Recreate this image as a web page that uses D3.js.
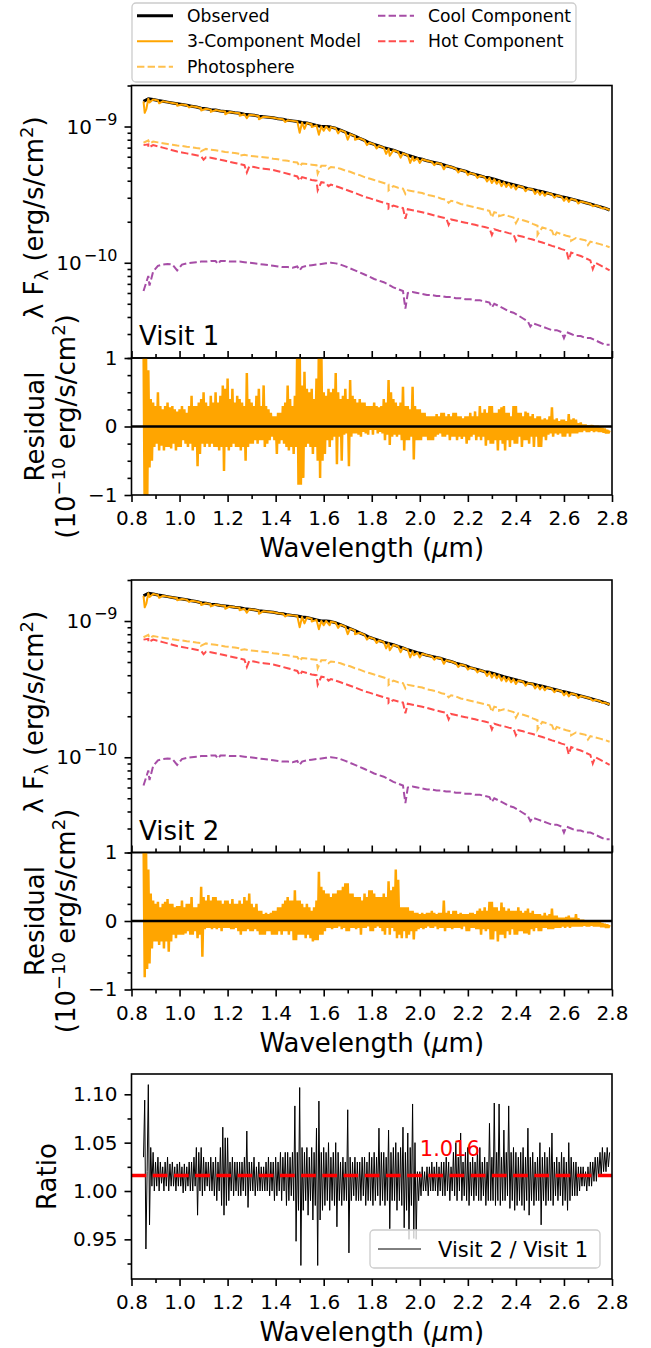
<!DOCTYPE html>
<html><head><meta charset="utf-8">
<script src="https://cdn.jsdelivr.net/npm/d3@7/dist/d3.min.js"></script>
<style>
body{margin:0;background:#fff}
svg{display:block}
text{font-family:"DejaVu Sans",sans-serif;fill:#000}
</style>
</head><body>
<svg id="chart" width="651" height="1348"></svg>
<script>
// ---------------- DATA ----------------
const fluxUnit = 1e-10;               // flux values below are in units of 1e-10 erg/s/cm^2
const specStart = 0.85, specStep = 0.02;   // wavelength grid (um) of the spectra
const observed = [15.3,16.0,15.8,15.5,15.3,15.1,14.9,14.7,
  14.5,14.3,14.1,13.9,13.6,13.5,13.3,13.2,13.0,12.9,12.8,12.6,12.5,12.3,12.2,12.1,11.9,11.8,11.7,11.6,
  11.4,11.3,11.1,11.0,10.9,10.7,10.6,10.4,10.2,10.0,10.0,9.9,9.7,9.4,9.1,8.8,8.5,8.2,7.9,7.6,
  7.4,7.2,7.0,6.85,6.7,6.5,6.35,6.15,6.0,5.85,
  5.75,5.6,5.5,5.4,5.3,5.15,5.05,4.9,4.8,4.7,4.55,4.45,4.35,4.25,4.2,4.1,4.0,3.9,3.82,3.74,
  3.66,3.58,3.5,3.45,3.38,3.32,3.25,3.18,3.12,3.05,3.0,2.94,2.88,2.82,2.76,2.7,2.64,2.58,2.52,2.44];
const modelDips = [[0.855,12.6],[0.862,13.5],[0.875,15.0],[0.915,14.8],[0.99,14.2],[1.04,13.8],[1.09,13.1],
  [1.13,12.8],[1.19,12.3],[1.25,12.0],[1.28,11.5],[1.33,11.3],[1.44,10.8],[1.50,9.0],[1.52,9.6],[1.55,9.9],
  [1.58,8.7],[1.60,9.3],[1.625,9.3],[1.66,8.9],[1.70,8.0],[1.73,8.0],[1.78,7.3],[1.82,6.9],[1.86,6.3],
  [1.875,6.1],[1.92,5.9],[1.96,5.4],[1.975,5.6],[2.0,5.4],[2.06,5.2],[2.1,4.85],[2.16,4.6],[2.2,4.4],
  [2.24,4.2],[2.28,3.95],[2.3,3.85],[2.32,3.8],[2.34,3.65],[2.36,3.6],[2.38,3.55],[2.4,3.45],[2.44,3.35],
  [2.48,3.2],[2.5,3.15],[2.52,3.1],[2.56,3.0],[2.6,2.85],[2.62,2.8],[2.66,2.72],[2.72,2.6],[2.76,2.5]];
const photosphere = [7.6,7.9,7.75,7.65,7.55,7.45,7.35,7.25,
  7.2,7.1,7.05,6.95,6.9,6.85,6.75,6.7,6.6,6.5,6.45,6.4,6.3,6.2,6.1,6.05,6.0,5.95,5.9,5.8,
  5.75,5.65,5.6,5.5,5.45,5.35,5.3,5.25,5.2,5.15,5.15,5.05,5.0,4.9,4.75,4.65,4.5,4.4,4.25,4.15,
  4.05,3.95,3.85,3.75,3.65,3.55,3.5,3.4,3.35,3.3,
  3.25,3.15,3.1,3.05,2.95,2.9,2.85,2.8,2.7,2.65,2.6,2.55,2.5,2.45,2.4,2.35,2.3,2.25,2.2,2.15,
  2.1,2.05,2.0,1.93,1.87,1.82,1.77,1.72,1.67,1.62,1.58,1.55,1.52,1.49,1.46,1.43,1.4,1.37,1.34,1.3];
const photoDips = [[0.875,7.5],[1.09,6.6],[1.25,6.1],[1.5,5.1],[1.575,4.5],[1.62,4.9],[1.87,3.4],[1.94,3.2],
  [2.12,2.75],[2.3,2.15],[2.33,2.2],[2.4,1.95],[2.49,1.6],[2.56,1.55],[2.63,1.45],[2.7,1.35]];
const coolComp = [0.62,0.80,0.86,0.95,0.97,0.98,0.97,0.88,
  0.97,0.99,1.0,1.01,1.02,1.02,1.03,1.03,1.03,1.03,1.02,1.02,1.02,1.01,1.0,0.99,0.98,0.97,0.96,0.95,
  0.94,0.93,0.93,0.92,0.94,0.93,0.95,0.96,0.97,0.98,0.99,1.0,0.99,0.97,0.94,0.91,0.88,0.85,0.82,0.79,
  0.76,0.74,0.72,0.69,0.66,0.64,0.62,0.60,0.61,0.60,
  0.59,0.58,0.58,0.57,0.57,0.56,0.56,0.55,0.55,0.54,0.54,0.53,0.53,0.52,0.51,0.50,0.48,0.46,0.44,0.43,
  0.41,0.39,0.37,0.36,0.35,0.34,0.33,0.32,0.32,0.31,0.31,0.30,0.29,0.29,0.28,0.28,0.27,0.26,0.25,0.25];
const coolDips = [[0.875,0.68],[1.16,0.98],[1.5,0.88],[1.94,0.46],[2.3,0.47],[2.46,0.34],[2.6,0.28]];
const hotComp = [7.3,7.4,7.3,7.15,7.0,6.85,6.7,6.55,
  6.45,6.35,6.25,6.15,6.05,5.95,5.9,5.8,5.7,5.6,5.5,5.4,5.3,5.2,5.1,5.05,4.95,4.9,4.85,4.8,
  4.7,4.6,4.5,4.4,4.3,4.25,4.15,4.05,4.0,3.9,3.85,3.75,3.65,3.55,3.45,3.35,3.25,3.15,3.05,2.98,
  2.9,2.83,2.76,2.7,2.63,2.57,2.52,2.47,2.43,2.39,
  2.35,2.3,2.25,2.2,2.16,2.12,2.08,2.04,2.0,1.97,1.93,1.9,1.86,1.83,1.79,1.76,1.72,1.69,1.65,1.62,
  1.58,1.55,1.51,1.48,1.44,1.41,1.37,1.33,1.3,1.26,1.23,1.19,1.15,1.12,1.08,1.04,1.0,0.96,0.92,0.88];
const hotDips = [[0.87,7.0],[1.1,5.7],[1.28,4.6],[1.5,4.0],[1.575,3.4],[1.62,3.65],[1.87,2.5],[1.94,2.1],
  [2.12,1.9],[2.3,1.6],[2.4,1.45],[2.62,1.05],[2.72,0.9]];

const residStart = 0.85, residStep = 0.005;  // residual grid (um), residuals in 1e-10 units
const residual1 = [
  1.3,-1.3,1.3,-1.3,0.82,-0.6,0.4,-0.5,0.35,-0.3,
  0.3,-0.25,0.5,-0.35,0.3,-0.28,0.25,-0.35,0.3,-0.3,
  0.35,-0.3,0.28,-0.32,0.3,-0.25,0.25,-0.35,0.22,-0.3,
  0.25,-0.3,0.3,-0.2,0.25,-0.25,0.2,-0.3,0.3,-0.25,
  0.45,-0.35,0.3,-0.3,0.3,-0.58,0.35,-0.4,0.4,-0.25,
  0.5,-0.3,0.35,-0.25,0.3,-0.3,0.45,-0.25,0.35,-0.3,
  0.5,-0.3,0.35,-0.35,0.45,-0.3,0.6,-0.65,0.55,-0.3,
  0.7,-0.35,0.4,-0.3,0.55,-0.25,0.35,-0.3,0.45,-0.3,
  0.4,-0.35,0.35,-0.3,0.3,-0.5,0.78,-0.3,0.4,-0.25,
  0.35,-0.25,0.3,-0.2,0.45,-0.25,0.55,-0.2,0.3,-0.2,
  0.6,-0.3,0.3,-0.25,0.25,-0.2,0.2,-0.15,0.15,-0.2,
  0.15,-0.4,0.2,-0.25,0.2,-0.2,0.3,-0.25,0.35,-0.3,
  0.6,-0.35,0.4,-0.3,0.3,-0.4,0.45,-0.3,1.2,-0.85,
  1.2,-0.85,0.6,-0.75,0.8,-0.3,0.55,-0.25,0.5,-0.3,
  0.55,-0.4,0.4,-0.3,0.7,-0.5,1.2,-0.75,1.2,-0.5,
  0.5,-0.4,0.45,-0.2,0.55,-0.3,0.5,-0.2,0.55,-0.15,
  0.78,-0.55,0.5,-0.15,0.4,-0.5,0.45,-0.12,0.55,-0.1,
  0.4,-0.58,0.68,-0.15,0.45,-0.1,0.4,-0.1,0.35,-0.12,
  0.4,-0.15,0.35,-0.08,0.35,-0.1,0.3,-0.12,0.3,-0.05,
  0.3,-0.12,0.35,-0.05,0.3,-0.1,0.28,-0.08,0.3,-0.1,
  0.4,-0.2,0.35,-0.12,0.68,-0.27,0.5,-0.15,0.4,-0.12,
  0.35,-0.15,0.3,-0.12,0.35,-0.2,0.58,-0.35,0.3,-0.2,
  0.3,-0.2,0.25,-0.15,0.58,-0.48,0.3,-0.2,0.25,-0.2,
  0.25,-0.2,0.2,-0.15,0.2,-0.15,0.15,-0.2,0.15,-0.2,
  0.15,-0.2,0.15,-0.15,0.18,-0.12,0.15,-0.1,0.2,-0.15,
  0.2,-0.15,0.15,-0.12,0.18,-0.2,0.15,-0.15,0.2,-0.15,
  0.2,-0.2,0.15,-0.15,0.15,-0.18,0.12,-0.15,0.15,-0.25,
  0.15,-0.2,0.2,-0.15,0.15,-0.12,0.22,-0.2,0.15,-0.15,
  0.3,-0.2,0.2,-0.15,0.25,-0.28,0.2,-0.2,0.3,-0.25,
  0.3,-0.25,0.2,-0.2,0.2,-0.35,0.25,-0.2,0.28,-0.25,
  0.3,-0.35,0.2,-0.2,0.2,-0.3,0.15,-0.2,0.3,-0.25,
  0.3,-0.25,0.2,-0.15,0.2,-0.3,0.15,-0.2,0.22,-0.2,
  0.2,-0.25,0.15,-0.15,0.18,-0.3,0.12,-0.15,0.15,-0.3,
  0.15,-0.3,0.1,-0.15,0.12,-0.2,0.1,-0.12,0.15,-0.1,
  0.28,-0.15,0.1,-0.1,0.12,-0.12,0.08,-0.1,0.1,-0.15,
  0.1,-0.15,0.08,-0.1,0.18,-0.15,0.1,-0.1,0.12,-0.1,
  0.1,-0.1,0.05,-0.08,0.06,-0.08,0.03,-0.06,0.03,-0.08,
  0.02,-0.08,0.02,-0.06,0.02,-0.08,0.01,-0.07,0.01,-0.08,
  0.0,-0.08,-0.02,-0.09,-0.03,-0.1,-0.05,-0.1,-0.06];
const residual2 = [
  1.3,-0.82,1.3,-0.7,0.75,-0.62,0.4,-0.4,0.3,-0.3,
  0.25,-0.3,0.28,-0.35,0.2,-0.3,0.25,-0.4,0.28,-0.3,
  0.32,-0.45,0.25,-0.3,0.25,-0.2,0.2,-0.25,0.22,-0.2,
  0.22,-0.2,0.3,-0.2,0.2,-0.18,0.25,-0.15,0.25,-0.2,
  0.35,-0.2,0.2,-0.15,0.2,-0.25,0.25,-0.2,0.5,-0.52,
  0.35,-0.12,0.3,-0.1,0.38,-0.1,0.3,-0.12,0.35,-0.1,
  0.35,-0.12,0.3,-0.1,0.3,-0.15,0.25,-0.1,0.3,-0.1,
  0.3,-0.1,0.25,-0.12,0.32,-0.12,0.25,-0.1,0.25,-0.15,
  0.3,-0.2,0.25,-0.15,0.35,-0.15,0.3,-0.12,0.4,-0.15,
  0.25,-0.15,0.2,-0.12,0.25,-0.15,0.15,-0.2,0.15,-0.2,
  0.1,-0.2,0.12,-0.15,0.1,-0.15,0.12,-0.2,0.15,-0.2,
  0.15,-0.2,0.2,-0.15,0.2,-0.2,0.25,-0.15,0.3,-0.15,
  0.35,-0.2,0.3,-0.15,0.3,-0.28,0.45,-0.28,0.3,-0.2,
  0.3,-0.2,0.25,-0.2,0.2,-0.25,0.25,-0.2,0.2,-0.25,
  0.15,-0.3,0.2,-0.28,0.3,-0.28,0.72,-0.2,0.5,-0.2,
  0.45,-0.15,0.4,-0.1,0.4,-0.1,0.35,-0.12,0.4,-0.1,
  0.4,-0.1,0.45,-0.08,0.45,-0.12,0.5,-0.1,0.55,-0.15,
  0.55,-0.15,0.4,-0.1,0.4,-0.1,0.35,-0.12,0.35,-0.1,
  0.35,-0.2,0.3,-0.1,0.4,-0.1,0.35,-0.08,0.45,-0.15,
  0.45,-0.15,0.4,-0.1,0.35,-0.08,0.35,-0.1,0.35,-0.15,
  0.4,-0.2,0.35,-0.1,0.58,-0.2,0.45,-0.1,0.5,-0.15,
  0.75,-0.25,0.6,-0.2,0.2,-0.25,0.2,-0.15,0.2,-0.25,
  0.2,-0.2,0.15,-0.15,0.15,-0.27,0.12,-0.15,0.12,-0.12,
  0.1,-0.1,0.12,-0.12,0.1,-0.1,0.12,-0.08,0.12,-0.1,
  0.15,-0.1,0.12,-0.08,0.1,-0.12,0.12,-0.1,0.12,-0.1,
  0.3,-0.15,0.12,-0.1,0.15,-0.1,0.1,-0.12,0.15,-0.1,
  0.15,-0.1,0.1,-0.1,0.12,-0.12,0.1,-0.08,0.1,-0.15,
  0.1,-0.15,0.12,-0.1,0.12,-0.1,0.1,-0.12,0.15,-0.12,
  0.18,-0.2,0.15,-0.12,0.2,-0.15,0.15,-0.12,0.28,-0.27,
  0.28,-0.27,0.2,-0.15,0.2,-0.3,0.15,-0.2,0.27,-0.2,
  0.2,-0.25,0.15,-0.15,0.18,-0.2,0.15,-0.12,0.15,-0.2,
  0.15,-0.2,0.2,-0.15,0.15,-0.15,0.12,-0.18,0.15,-0.18,
  0.18,-0.2,0.12,-0.12,0.15,-0.15,0.1,-0.1,0.1,-0.15,
  0.1,-0.15,0.08,-0.1,0.12,-0.1,0.08,-0.12,0.1,-0.12,
  0.18,-0.12,0.08,-0.1,0.08,-0.1,0.05,-0.1,0.05,-0.08,
  0.05,-0.1,0.06,-0.08,0.08,-0.1,0.05,-0.08,0.05,-0.08,
  0.1,-0.08,0.04,-0.08,0.02,-0.08,0.02,-0.07,0.0,-0.08,
  0.0,-0.08,0.0,-0.07,0.0,-0.08,-0.01,-0.08,-0.02,-0.08,
  -0.02,-0.09,-0.03,-0.09,-0.04,-0.1,-0.05,-0.1,-0.06];

const ratioStart = 0.85, ratioStep = 0.005;
const ratio = [
  1.035,1.094,0.94,1.02,1.11,0.965,1.045,1.005,1.04,1.0,
  1.03,1.005,1.035,1.0,1.03,1.008,1.025,1.0,1.03,1.005,
  1.035,1.0,1.028,1.005,1.03,1.005,1.025,1.0,1.028,1.005,
  1.03,1.005,1.025,0.998,1.028,1.0,1.025,1.005,1.03,1.0,
  1.03,1.0,1.035,1.005,1.045,0.975,1.04,1.0,1.045,0.995,
  1.035,1.0,1.03,1.005,1.03,1.0,1.035,1.0,1.03,0.995,
  1.035,0.99,1.03,1.0,1.045,0.985,1.066,0.975,1.055,0.985,
  1.055,0.99,1.03,1.0,1.035,0.995,1.03,1.0,1.03,0.995,
  1.03,0.995,1.03,1.0,1.035,0.995,1.062,0.983,1.03,1.0,
  1.03,1.0,1.035,0.995,1.025,1.0,1.03,1.0,1.025,1.0,
  1.025,1.0,1.03,1.0,1.035,0.995,1.03,1.0,1.03,0.99,
  1.035,0.995,1.03,1.0,1.04,0.99,1.035,1.0,1.04,0.985,
  1.04,0.99,1.035,0.995,1.04,0.99,1.088,0.948,1.04,0.98,
  1.107,0.923,1.045,0.98,1.04,0.99,1.045,0.975,1.035,0.99,
  1.045,0.97,1.04,0.985,1.065,0.923,1.093,0.97,1.04,0.98,
  1.045,0.985,1.04,0.99,1.05,0.98,1.035,0.99,1.04,0.985,
  1.05,0.963,1.04,0.99,1.03,0.985,1.035,0.99,1.03,0.99,
  1.084,0.936,1.035,0.99,1.03,0.995,1.035,0.99,1.03,0.99,
  1.03,0.99,1.035,0.995,1.035,0.985,1.03,0.99,1.04,0.99,
  1.035,0.985,1.04,0.99,1.035,0.995,1.065,0.985,1.04,0.99,
  1.04,0.985,1.035,0.99,1.063,0.961,1.04,0.99,1.045,0.99,
  1.05,0.98,1.04,0.99,1.045,0.985,1.066,0.962,1.04,0.98,
  1.06,0.95,1.045,0.985,1.09,0.951,1.05,0.95,1.02,0.99,
  1.02,0.995,1.025,1.0,1.02,1.0,1.025,0.995,1.025,1.0,
  1.03,1.0,1.025,1.0,1.03,0.995,1.025,1.0,1.03,0.995,
  1.03,0.995,1.035,1.0,1.03,0.99,1.025,1.0,1.04,0.995,
  1.05,0.99,1.035,1.0,1.06,0.99,1.03,0.995,1.04,0.99,
  1.045,0.985,1.03,0.995,1.035,0.99,1.03,0.995,1.045,0.99,
  1.045,0.99,1.03,0.995,1.035,0.985,1.03,0.99,1.07,0.99,
  1.035,0.99,1.091,0.985,1.04,0.99,1.09,0.985,1.035,0.99,
  1.063,0.99,1.04,0.995,1.088,0.982,1.04,0.99,1.045,0.98,
  1.04,0.985,1.035,0.99,1.04,0.985,1.045,0.98,1.035,0.99,
  1.065,0.975,1.035,0.99,1.04,0.985,1.03,0.99,1.035,0.99,
  1.05,0.965,1.035,0.99,1.04,0.985,1.035,0.99,1.045,0.99,
  1.06,0.985,1.03,0.995,1.035,0.99,1.03,0.995,1.04,0.985,
  1.035,0.99,1.03,0.98,1.05,0.99,1.035,0.995,1.03,0.995,
  1.03,0.995,1.025,1.0,1.025,1.005,1.025,1.005,1.02,1.0,
  1.025,1.005,1.03,1.005,1.03,1.01,1.035,1.01,1.035,1.015,
  1.04,1.015,1.045,1.02,1.04,1.02,1.045,1.025,1.04];
const ratioMean = 1.016;

const xMajorTicks = [0.8,1.0,1.2,1.4,1.6,1.8,2.0,2.2,2.4,2.6,2.8];
const xMinorTicks = [0.9,1.1,1.3,1.5,1.7,1.9,2.1,2.3,2.5,2.7];
const specMajorTicks = [1,10];                       // 1e-10, 1e-9
const specMinorTicks = [0.2,0.3,0.4,0.5,0.6,0.7,0.8,0.9,2,3,4,5,6,7,8,9,20];
const residMajorTicks = [-1,0,1];
const residMinorTicks = [-0.75,-0.5,-0.25,0.25,0.5,0.75];
const ratioMajorTicks = [0.95,1.00,1.05,1.10];
const ratioMinorTicks = [0.925,0.975,1.025,1.075];
const legendLabels = ["Observed","3-Component Model","Photosphere","Cool Component","Hot Component"];
const visitLabels = ["Visit 1","Visit 2"];

// ---------------- LAYOUT / STYLE ----------------
const X0 = 131.5, X1 = 612;
const panels = {
  s1:{top:85.5,bottom:358}, r1:{top:358,bottom:495},
  s2:{top:580,bottom:852.5}, r2:{top:852.5,bottom:989.5},
  rt:{top:1074,bottom:1279}
};
const LABEL = 26;
const C = {obs:"#000000", model:"#ffa500", photo:"#ffc04d", cool:"#a64da6", hot:"#ff4d4d"};
const svg = d3.select("#chart");
const x = d3.scaleLinear().domain([0.8,2.8]).range([X0,X1]);

function gridSeries(arr, start, step){ return arr.map((v,i)=>[start+i*step, v]); }
function withDips(arr, dips){ return gridSeries(arr, specStart, specStep).concat(dips).sort((a,b)=>a[0]-b[0]); }

let clipId = 0;
function makeClip(p){
  const id = "clip"+(clipId++);
  svg.append("clipPath").attr("id",id).append("rect")
    .attr("x",X0).attr("y",p.top).attr("width",X1-X0).attr("height",p.bottom-p.top);
  return "url(#"+id+")";
}
function styleAxis(g){
  g.select(".domain").remove();
  g.selectAll(".tick line").attr("stroke","#000").attr("stroke-width",1.6);
  g.selectAll(".tick text").attr("font-size",20).attr("font-family","DejaVu Sans").attr("fill","#000");
}
function frame(p){
  svg.append("rect").attr("x",X0).attr("y",p.top).attr("width",X1-X0).attr("height",p.bottom-p.top)
    .attr("fill","none").attr("stroke","#000").attr("stroke-width",1.6);
}
function leftAxis(p, scale, major, minor, fmt){
  svg.append("g").attr("transform",`translate(${X0},0)`)
    .call(d3.axisLeft(scale).tickValues(major).tickSize(7).tickPadding(7).tickFormat(fmt)).call(styleAxis);
  svg.append("g").attr("transform",`translate(${X0},0)`)
    .call(d3.axisLeft(scale).tickValues(minor).tickSize(4).tickFormat("")).call(styleAxis);
}
function bottomAxis(p, labelled){
  if(labelled){
    svg.append("g").attr("transform",`translate(0,${p.bottom})`)
      .call(d3.axisBottom(x).tickValues(xMajorTicks).tickSize(7).tickPadding(9).tickFormat(d3.format(".1f"))).call(styleAxis);
    svg.append("g").attr("transform",`translate(0,${p.bottom})`)
      .call(d3.axisBottom(x).tickValues(xMinorTicks).tickSize(4).tickFormat("")).call(styleAxis);
    const t = svg.append("text").attr("x",(X0+X1)/2).attr("y",p.bottom+62).attr("text-anchor","middle").attr("font-size",LABEL);
    t.append("tspan").text("Wavelength (");
    t.append("tspan").attr("font-style","italic").text("μ");
    t.append("tspan").text("m)");
  } else {
    svg.append("g").attr("transform",`translate(0,${p.bottom})`)
      .call(d3.axisTop(x).tickValues(xMajorTicks).tickSize(7).tickFormat("")).call(styleAxis);
    svg.append("g").attr("transform",`translate(0,${p.bottom})`)
      .call(d3.axisTop(x).tickValues(xMinorTicks).tickSize(4).tickFormat("")).call(styleAxis);
  }
}
const minusFmt = d => d<0 ? "\u2212"+Math.abs(d) : String(d);

function spectrumPanel(p, visitLabel){
  const y = d3.scaleLog().domain([0.2,20]).range([p.bottom,p.top]);
  const clip = makeClip(p);
  const line = d3.line().x(d=>x(d[0])).y(d=>y(d[1]));
  const g = svg.append("g").attr("clip-path",clip).attr("fill","none");
  g.append("path").attr("d",line(gridSeries(observed,specStart,specStep))).attr("stroke",C.obs).attr("stroke-width",3).attr("stroke-linejoin","round");
  g.append("path").attr("d",line(withDips(observed,modelDips))).attr("stroke",C.model).attr("stroke-width",2).attr("stroke-linejoin","round");
  g.append("path").attr("d",line(withDips(photosphere,photoDips))).attr("stroke",C.photo).attr("stroke-width",2).attr("stroke-dasharray","7.4,3.2");
  g.append("path").attr("d",line(withDips(coolComp,coolDips))).attr("stroke",C.cool).attr("stroke-width",2).attr("stroke-dasharray","7.4,3.2");
  g.append("path").attr("d",line(withDips(hotComp,hotDips))).attr("stroke",C.hot).attr("stroke-width",2).attr("stroke-dasharray","7.4,3.2");
  frame(p);
  leftAxis(p, y, specMajorTicks, specMinorTicks, ()=>"");
  specMajorTicks.forEach(v=>{
    const exp = Math.round(Math.log10(v*fluxUnit));
    const t = svg.append("text").attr("x",X0-14).attr("y",y(v)+7).attr("text-anchor","end").attr("font-size",20);
    t.append("tspan").text("10");
    t.append("tspan").attr("font-size",16).attr("dy",-9).attr("dx",2).text("\u2212"+Math.abs(exp));
  });
  bottomAxis(p,false);
  svg.append("text").attr("x",139).attr("y",p.bottom-13).attr("font-size",LABEL).text(visitLabel);
  const cy = (p.top+p.bottom)/2 - 4;
  const t = svg.append("text").attr("transform",`translate(43,${cy}) rotate(-90)`).attr("text-anchor","middle").attr("font-size",LABEL);
  t.append("tspan").text("λ F");
  t.append("tspan").attr("font-size",18).attr("dy",5).text("λ");
  t.append("tspan").attr("dy",-5).text(" (erg/s/cm");
  t.append("tspan").attr("font-size",18).attr("dy",-10).text("2");
  t.append("tspan").attr("dy",10).text(")");
}

function residualPanel(p, data){
  const y = d3.scaleLinear().domain([-1,1]).range([p.bottom,p.top]);
  const clip = makeClip(p);
  const line = d3.line().x(d=>x(d[0])).y(d=>y(d[1]));
  const g = svg.append("g").attr("clip-path",clip).attr("fill","none");
  g.append("path").attr("d",line(gridSeries(data,residStart,residStep))).attr("stroke",C.model).attr("stroke-width",2.5).attr("stroke-linejoin","bevel");
  g.append("line").attr("x1",X0).attr("x2",X1).attr("y1",y(0)).attr("y2",y(0)).attr("stroke","#000").attr("stroke-width",2.4);
  frame(p);
  leftAxis(p, y, residMajorTicks, residMinorTicks, minusFmt);
  bottomAxis(p,true);
  const cy = (p.top+p.bottom)/2;
  svg.append("text").attr("transform",`translate(44,${cy}) rotate(-90)`).attr("text-anchor","middle").attr("font-size",LABEL).text("Residual");
  const t = svg.append("text").attr("transform",`translate(75,${cy}) rotate(-90)`).attr("text-anchor","middle").attr("font-size",LABEL);
  t.append("tspan").text("(10");
  t.append("tspan").attr("font-size",18).attr("dy",-10).text("\u221210");
  t.append("tspan").attr("dy",10).text(" erg/s/cm");
  t.append("tspan").attr("font-size",18).attr("dy",-10).text("2");
  t.append("tspan").attr("dy",10).text(")");
}

spectrumPanel(panels.s1, visitLabels[0]);
residualPanel(panels.r1, residual1);
spectrumPanel(panels.s2, visitLabels[1]);
residualPanel(panels.r2, residual2);

// ratio panel
(function(){
  const p = panels.rt;
  const y = d3.scaleLinear().domain([0.909,1.121]).range([p.bottom,p.top]);
  const clip = makeClip(p);
  const line = d3.line().x(d=>x(d[0])).y(d=>y(d[1]));
  const g = svg.append("g").attr("clip-path",clip).attr("fill","none");
  g.append("path").attr("d",line(gridSeries(ratio,ratioStart,ratioStep))).attr("stroke","#000").attr("stroke-width",1);
  g.append("line").attr("x1",X0).attr("x2",X1).attr("y1",y(ratioMean)).attr("y2",y(ratioMean))
    .attr("stroke","#ff0000").attr("stroke-width",3.5).attr("stroke-dasharray","14.8,6.4");
  svg.append("text").attr("x",x(2.0)).attr("y",y(ratioMean+0.02)).attr("font-size",21).style("fill","#ff0000").text(ratioMean.toFixed(3));
  frame(p);
  leftAxis(p, y, ratioMajorTicks, ratioMinorTicks, d3.format(".2f"));
  bottomAxis(p,true);
  svg.append("text").attr("transform",`translate(56,${(p.top+p.bottom)/2}) rotate(-90)`).attr("text-anchor","middle").attr("font-size",LABEL).text("Ratio");
  svg.append("rect").attr("x",370).attr("y",1230).attr("width",230).attr("height",38).attr("rx",4)
    .attr("fill","#fff").attr("fill-opacity",0.8).attr("stroke","#cccccc").attr("stroke-width",1.3);
  svg.append("line").attr("x1",378).attr("x2",421).attr("y1",1249).attr("y2",1249).attr("stroke","#000").attr("stroke-width",1);
  svg.append("text").attr("x",438).attr("y",1256.5).attr("font-size",21).text("Visit 2 / Visit 1");
})();

// top legend
(function(){
  svg.append("rect").attr("x",132).attr("y",3).attr("width",444).attr("height",79).attr("rx",4)
    .attr("fill","#fff").attr("fill-opacity",0.8).attr("stroke","#cccccc").attr("stroke-width",1.3);
  const items = [
    {label:legendLabels[0], color:C.obs, w:3, dash:null, col:0, row:0},
    {label:legendLabels[1], color:C.model, w:2, dash:null, col:0, row:1},
    {label:legendLabels[2], color:C.photo, w:2, dash:"7.4,3.2", col:0, row:2},
    {label:legendLabels[3], color:C.cool, w:2, dash:"7.4,3.2", col:1, row:0},
    {label:legendLabels[4], color:C.hot, w:2, dash:"7.4,3.2", col:1, row:1}
  ];
  const colX = [137, 378], rowY = [15.7, 41.2, 66.7];
  items.forEach(it=>{
    const x0 = colX[it.col], yy = rowY[it.row];
    const l = svg.append("line").attr("x1",x0).attr("x2",x0+36).attr("y1",yy).attr("y2",yy)
      .attr("stroke",it.color).attr("stroke-width",it.w);
    if(it.dash) l.attr("stroke-dasharray",it.dash);
    svg.append("text").attr("x",x0+50).attr("y",yy+6).attr("font-size",17.2).text(it.label);
  });
})();
</script>
</body></html>
